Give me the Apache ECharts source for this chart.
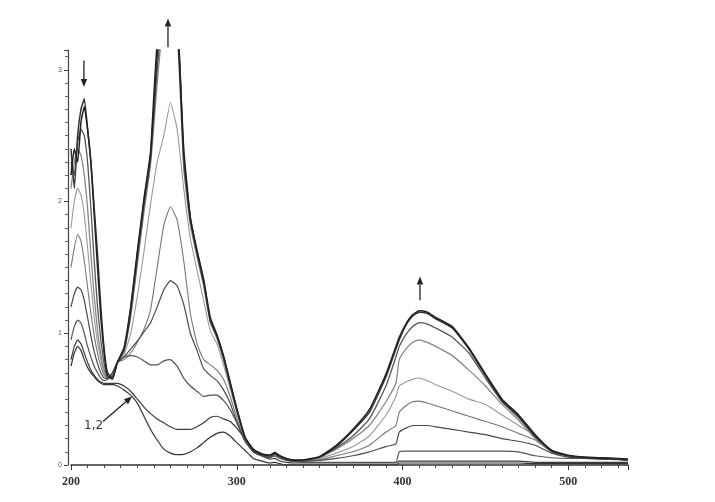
<!DOCTYPE html>
<html>
<head>
<meta charset="utf-8">
<script src="https://cdn.jsdelivr.net/npm/echarts@6/dist/echarts.min.js"></script>
<style>
html, body { margin: 0; padding: 0; background: #fff; }
#myChart { width: 715px; height: 502px; }
</style>
</head>
<body>
<div id="myChart"></div>
<script>
// wavelength, nm
var wavelengths = [200, 202, 204, 206, 208, 210, 212, 214, 216, 218, 220, 222, 225, 228,
  232, 236, 240, 244, 248, 252, 256, 260, 264, 268, 272, 276, 280, 284, 288, 292, 296, 300,
  305, 310, 315, 320, 323, 326, 330, 335, 340, 350, 360, 370, 380, 390, 396,
  398, 402, 406, 410, 415, 420, 430, 440, 450, 460, 470, 480, 490, 500, 510, 520, 530, 536];

// absorbance of each spectrum (1 = first, 10 = last)
var curve1 = [0.75, 0.85, 0.9, 0.87, 0.8, 0.74, 0.7, 0.67, 0.64, 0.62, 0.61, 0.61, 0.61, 0.6,
  0.57, 0.53, 0.47, 0.37, 0.27, 0.19, 0.12, 0.09, 0.078, 0.08, 0.1, 0.13, 0.17, 0.21, 0.24, 0.25, 0.22, 0.17,
  0.11, 0.05, 0.03, 0.015, 0.02, 0.01, 0, 0, 0, 0, 0, 0, 0, 0, 0,
  0.015, 0.015, 0.015, 0.015, 0.015, 0.015, 0.015, 0.015, 0.015, 0.015, 0.015, 0.01, 0.01, 0.01, 0.01, 0.01, 0.01, 0.01];
var curve2 = [0.8, 0.9, 0.95, 0.92, 0.85, 0.78, 0.72, 0.68, 0.65, 0.63, 0.62, 0.62, 0.62, 0.62,
  0.6, 0.56, 0.5, 0.44, 0.39, 0.35, 0.32, 0.29, 0.27, 0.27, 0.27, 0.29, 0.32, 0.36, 0.37, 0.35, 0.33, 0.28,
  0.2, 0.12, 0.07, 0.045, 0.05, 0.03, 0.02, 0.015, 0.015, 0.015, 0.015, 0.015, 0.015, 0.015, 0.015,
  0.03, 0.03, 0.03, 0.03, 0.03, 0.03, 0.03, 0.03, 0.03, 0.03, 0.03, 0.02, 0.02, 0.02, 0.02, 0.02, 0.02, 0.02];
var curve3 = [0.95, 1.05, 1.1, 1.08, 1.0, 0.9, 0.82, 0.75, 0.7, 0.66, 0.64, 0.65, 0.7, 0.78,
  0.82, 0.83, 0.82, 0.79, 0.76, 0.76, 0.79, 0.8, 0.75, 0.66, 0.6, 0.56, 0.52, 0.53, 0.53, 0.49, 0.42, 0.32,
  0.18, 0.1, 0.07, 0.055, 0.07, 0.05, 0.035, 0.025, 0.02, 0.02, 0.02, 0.02, 0.02, 0.02, 0.02,
  0.1, 0.105, 0.105, 0.105, 0.105, 0.105, 0.105, 0.105, 0.105, 0.105, 0.1, 0.07, 0.055, 0.05, 0.05, 0.045, 0.045, 0.04];
var curve4 = [1.2, 1.3, 1.35, 1.33, 1.25, 1.12, 0.98, 0.86, 0.77, 0.7, 0.66, 0.66, 0.7, 0.78,
  0.82, 0.88, 0.94, 1.01, 1.08, 1.2, 1.33, 1.4, 1.36, 1.22, 1.0, 0.87, 0.73, 0.68, 0.64, 0.57, 0.47, 0.33,
  0.18, 0.1, 0.07, 0.06, 0.08, 0.06, 0.04, 0.03, 0.03, 0.035, 0.05, 0.07, 0.1, 0.14, 0.16,
  0.25, 0.28, 0.3, 0.3, 0.3, 0.29, 0.27, 0.25, 0.23, 0.2, 0.18, 0.15, 0.09, 0.06, 0.05, 0.045, 0.04, 0.035];
var curve5 = [1.5, 1.65, 1.75, 1.7, 1.55, 1.35, 1.15, 0.98, 0.85, 0.75, 0.68, 0.66, 0.69, 0.78,
  0.8, 0.85, 0.93, 1.03, 1.18, 1.5, 1.82, 1.96, 1.86, 1.55, 1.15, 0.92, 0.8, 0.76, 0.72, 0.65, 0.52, 0.36,
  0.19, 0.1, 0.07, 0.06, 0.08, 0.06, 0.04, 0.03, 0.03, 0.04, 0.07, 0.1, 0.15, 0.25, 0.3,
  0.4, 0.45, 0.48, 0.485, 0.47, 0.45, 0.41, 0.37, 0.33, 0.29, 0.24, 0.19, 0.1, 0.07, 0.055, 0.05, 0.045, 0.04];
var curve6 = [1.8, 2.0, 2.1, 2.05, 1.9, 1.65, 1.38, 1.12, 0.93, 0.8, 0.7, 0.66, 0.69, 0.78,
  0.84, 1.0, 1.28, 1.62, 1.98, 2.3, 2.5, 2.75, 2.55, 2.1, 1.72, 1.48, 1.25, 1.02, 0.92, 0.76, 0.58, 0.4,
  0.2, 0.11, 0.075, 0.065, 0.085, 0.06, 0.04, 0.03, 0.03, 0.05, 0.09, 0.14, 0.22, 0.38, 0.52,
  0.6, 0.63, 0.65, 0.66, 0.64, 0.61, 0.56, 0.5, 0.46, 0.38, 0.3, 0.22, 0.1, 0.07, 0.055, 0.05, 0.045, 0.04];
var curve7 = [2.1, 2.3, 2.4, 2.35, 2.2, 1.95, 1.6, 1.28, 1.02, 0.84, 0.72, 0.65, 0.68, 0.78,
  0.86, 1.12, 1.52, 1.92, 2.28, 2.9, 3.4, 3.5, 3.3, 2.25, 1.82, 1.58, 1.36, 1.08, 0.96, 0.8, 0.6, 0.41,
  0.2, 0.11, 0.08, 0.07, 0.09, 0.065, 0.045, 0.035, 0.035, 0.06, 0.12, 0.2, 0.3, 0.48, 0.62,
  0.8, 0.88, 0.93, 0.95, 0.93, 0.9, 0.83, 0.72, 0.6, 0.46, 0.34, 0.2, 0.1, 0.07, 0.055, 0.05, 0.045, 0.04];
var curve8 = [2.3, 2.2, 2.45, 2.55, 2.5, 2.3, 1.95, 1.55, 1.2, 0.95, 0.77, 0.66, 0.67, 0.78,
  0.87, 1.15, 1.56, 1.96, 2.32, 3.0, 3.45, 3.3, 3.45, 2.3, 1.85, 1.6, 1.38, 1.1, 0.98, 0.81, 0.61, 0.42,
  0.2, 0.11, 0.08, 0.07, 0.09, 0.065, 0.045, 0.035, 0.035, 0.06, 0.13, 0.22, 0.35, 0.6, 0.82,
  0.9, 0.99, 1.05, 1.08, 1.07, 1.04, 0.97, 0.85, 0.66, 0.48, 0.36, 0.21, 0.1, 0.07, 0.055, 0.05, 0.045, 0.04];
var curve9 = [2.4, 2.1, 2.5, 2.7, 2.78, 2.55, 2.3, 1.95, 1.6, 1.2, 0.88, 0.7, 0.66, 0.78,
  0.88, 1.18, 1.6, 2.0, 2.35, 3.1, 3.5, 3.4, 3.35, 2.35, 1.87, 1.62, 1.4, 1.1, 0.98, 0.82, 0.62, 0.42,
  0.21, 0.11, 0.08, 0.07, 0.09, 0.065, 0.045, 0.035, 0.035, 0.06, 0.14, 0.26, 0.4, 0.67, 0.88,
  0.95, 1.06, 1.13, 1.16, 1.15, 1.11, 1.04, 0.88, 0.68, 0.49, 0.37, 0.22, 0.11, 0.07, 0.055, 0.05, 0.045, 0.04];
var curve10 = [2.2, 2.4, 2.3, 2.6, 2.72, 2.55, 2.3, 1.9, 1.5, 1.12, 0.85, 0.68, 0.65, 0.78,
  0.89, 1.2, 1.62, 2.02, 2.38, 3.2, 3.3, 3.5, 3.4, 2.4, 1.88, 1.63, 1.41, 1.12, 0.99, 0.83, 0.63, 0.43,
  0.21, 0.12, 0.085, 0.075, 0.095, 0.07, 0.05, 0.038, 0.038, 0.065, 0.15, 0.27, 0.42, 0.69, 0.9,
  0.97, 1.07, 1.14, 1.17, 1.16, 1.12, 1.05, 0.89, 0.69, 0.5, 0.38, 0.23, 0.11, 0.075, 0.06, 0.055, 0.05, 0.045];

var curves = [curve1, curve2, curve3, curve4, curve5, curve6, curve7, curve8, curve9, curve10];
var lineColors = ['#333', '#3a3a3a', '#555', '#4a4a4a', '#777', '#999', '#888', '#555', '#333', '#222'];
var lineWidths = [1.2, 1.2, 1.2, 1.2, 1.1, 1.1, 1.3, 1.3, 1.5, 1.5];

// arrows: [from, to] in data units, and the "1,2" label
var arrows = [
  [[258.5, 3.17], [258.5, 3.39]],
  [[207.8, 3.07], [207.8, 2.87]],
  [[410.5, 1.25], [410.5, 1.43]],
  [[219.3, 0.33], [236.8, 0.52]]
];
var labelText = '1,2';
var labelAt = [213.6, 0.30];

var myChart = echarts.init(document.getElementById('myChart'));

var series = curves.map(function (vals, i) {
  return {
    name: 'spectrum ' + (i + 1),
    type: 'line',
    data: wavelengths.map(function (w, k) { return [w, vals[k]]; }),
    symbol: 'none',
    smooth: 0.15,
    clip: true,
    z: 2 + (lineColors[i] < '#666' ? 1 : 0),
    lineStyle: { color: lineColors[i], width: lineWidths[i] }
  };
});

myChart.setOption({
  animation: false,
  backgroundColor: '#fff',
  grid: { left: 71, right: 87, top: 50, bottom: 37 },
  xAxis: {
    type: 'value',
    min: 200,
    max: 536,
    interval: 100,
    offset: 5,
    axisLine: { lineStyle: { color: '#333', width: 1.5 } },
    axisTick: { length: 5, lineStyle: { color: '#333' } },
    minorTick: { show: true, splitNumber: 10, length: 3, lineStyle: { color: '#444' } },
    splitLine: { show: false },
    axisLabel: {
      color: '#333', fontFamily: 'Liberation Serif', fontWeight: 'bold', fontSize: 12, margin: 6,
      showMaxLabel: false
    }
  },
  yAxis: {
    type: 'value',
    min: 0,
    max: 3.15,
    interval: 1,
    offset: 3,
    axisLine: { lineStyle: { color: '#444', width: 1.2 } },
    axisTick: { length: 4, lineStyle: { color: '#444' } },
    minorTick: { show: true, splitNumber: 10, length: 3, lineStyle: { color: '#666' } },
    splitLine: { show: false },
    axisLabel: { color: '#555', fontSize: 7, margin: 6, showMaxLabel: false }
  },
  series: series
});

function px(p) { return myChart.convertToPixel({ gridIndex: 0 }, p); }

var graphics = [];
arrows.forEach(function (a) {
  var s = px(a[0]), e = px(a[1]);
  var ang = Math.atan2(e[1] - s[1], e[0] - s[0]);
  var hl = 8, hw = 3.2;
  var bx = e[0] - hl * Math.cos(ang), by = e[1] - hl * Math.sin(ang);
  graphics.push({
    type: 'line', z: 10,
    shape: { x1: s[0], y1: s[1], x2: bx, y2: by },
    style: { stroke: '#222', lineWidth: 1.3 }
  });
  graphics.push({
    type: 'polygon', z: 10,
    shape: { points: [[e[0], e[1]],
      [bx - hw * Math.sin(ang), by + hw * Math.cos(ang)],
      [bx + hw * Math.sin(ang), by - hw * Math.cos(ang)]] },
    style: { fill: '#222' }
  });
});
var lp = px(labelAt);
graphics.push({
  type: 'text', z: 10, x: lp[0], y: lp[1],
  style: { text: labelText, fill: '#333', font: '12px "DejaVu Sans"', align: 'center', verticalAlign: 'middle' }
});
myChart.setOption({ graphic: graphics });
</script>
</body>
</html>
